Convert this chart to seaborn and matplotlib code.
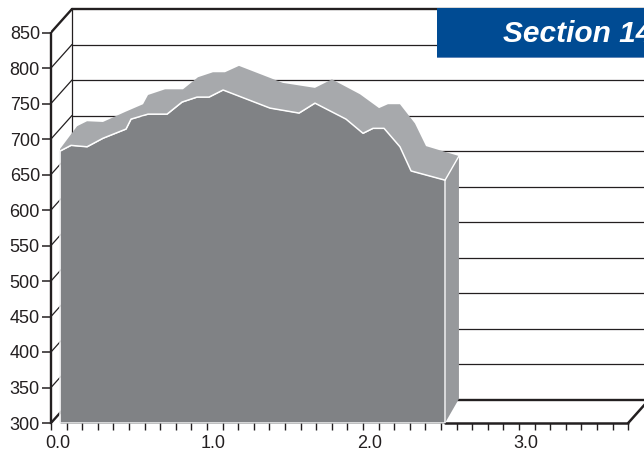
import matplotlib
matplotlib.use("Agg")
import matplotlib.pyplot as plt
from matplotlib.patches import Rectangle
from matplotlib.transforms import ScaledTranslation
import numpy as np
import pandas as pd
import seaborn as sns

# front edge of the ribbon
frontX = [0.058, 0.128, 0.231, 0.333, 0.481, 0.513, 0.622, 0.744, 0.840, 0.936, 1.013, 1.103,
          1.404, 1.590, 1.692, 1.891, 2.000, 2.064, 2.135, 2.237, 2.308, 2.526]
frontY = [683, 691, 689, 701, 714, 728, 735, 735, 752, 759, 759, 769,
          743.5, 736.5, 750.5, 728, 708, 715, 715, 689, 655, 642]
# back edge of the ribbon
backX = [0.058, 0.167, 0.231, 0.333, 0.474, 0.590, 0.622, 0.731, 0.846, 0.942, 1.038, 1.115,
         1.205, 1.487, 1.692, 1.801, 1.981, 2.103, 2.160, 2.237, 2.333, 2.404, 2.615]
backY = [686, 718, 725, 724, 738, 749, 762, 770, 770, 787, 794, 794,
         803, 779, 772, 784, 763, 743.5, 749, 749, 722, 690, 676]

yTicks = list(range(300, 851, 50))
xTickLabels = [0.0, 1.0, 2.0, 3.0]
xMinor = [i / 10 for i in range(38)]
bannerText = "Section 14"

W, H = 644, 451
AXIS_X, FLOOR_Y = 51, 423
PX_PER_X = 156
PX_PER_Y = 35.5 / 50
DEPTH_X = 21 / PX_PER_X
DEPTH_Y = 23.5 / PX_PER_Y
DARK = "#231f20"

sns.set_theme(style="white")
plt.rcParams["font.family"] = ["Liberation Sans", "DejaVu Sans"]

fig = plt.figure(figsize=(W / 100, H / 100), dpi=100)
ax = fig.add_axes([AXIS_X / W, (H - FLOOR_Y) / H, (W - AXIS_X) / W, FLOOR_Y / H])
ax.set_xlim(0, (W - AXIS_X) / PX_PER_X)
ax.set_ylim(300, 300 + FLOOR_Y / PX_PER_Y)
for side in ["top", "right", "bottom"]:
    ax.spines[side].set_visible(False)
ax.spines["left"].set_bounds(300, 850)
ax.spines["left"].set_linewidth(1.7)
ax.spines["left"].set_color(DARK)

# wall grid and the diagonals running back from the front axis
xRight = ax.get_xlim()[1]
for v in yTicks:
    thick = v in (300, 850)
    lw = 1.7 if thick else 0.9
    ax.plot([DEPTH_X, xRight], [v + DEPTH_Y] * 2, color=DARK, lw=lw, zorder=1)
    ax.plot([0, DEPTH_X], [v, v + DEPTH_Y], color=DARK, lw=lw, zorder=1)
ax.plot([DEPTH_X, DEPTH_X], [300 + DEPTH_Y, 850 + DEPTH_Y], color=DARK, lw=0.9, zorder=1)

# floor, only the parts the ribbon does not cover
floorEnd = xMinor[37]
ax.plot([frontX[-1], floorEnd], [300, 300], color=DARK, lw=1.8, zorder=1, clip_on=False)
ax.plot([floorEnd, floorEnd + DEPTH_X], [300, 300 + DEPTH_Y], color=DARK, lw=1.8, zorder=1)

# ribbon faces
ax.fill(frontX + backX[::-1], frontY + backY[::-1], color="#a7a9ac", lw=0, zorder=2)
ax.fill([frontX[-1], backX[-1], backX[-1], frontX[-1]],
        [frontY[-1], backY[-1], 300 + backY[-1] - frontY[-1], 300],
        color="#97999c", lw=0, zorder=2)
ax.fill_between(frontX, 300, frontY, color="#808285", lw=0, zorder=3)

# white edges of the front face
df_front = pd.DataFrame({"x": frontX, "y": frontY})
sns.lineplot(x="x", y="y", data=df_front, ax=ax, color="white", lw=1.1, sort=False, zorder=4)
ax.plot([frontX[0], frontX[0], frontX[-1], frontX[-1]],
        [frontY[0], 300, 300, frontY[-1]], color="#f1f1f2", lw=1.1, zorder=4)
ax.plot([frontX[-1], backX[-1]], [frontY[-1], backY[-1]], color="white", lw=1.0, zorder=4)

ax.set_xlabel("")
ax.set_ylabel("")
ax.set_yticks(yTicks)
ax.set_xticks(xTickLabels)
ax.set_xticklabels([f"{v:.1f}" for v in xTickLabels])
ax.set_xticks([v for v in xMinor if v not in xTickLabels], minor=True)
ax.tick_params(axis="y", left=True, length=6.5, width=1.1, color=DARK, labelsize=13, labelcolor=DARK, pad=1.5)
ax.tick_params(axis="x", which="both", bottom=True, length=5, width=1.0, color=DARK)
ax.tick_params(axis="x", which="major", labelsize=13, labelcolor=DARK, pad=4)

# the x labels sit a little to the right of their ticks
labelShift = ScaledTranslation(6.5 / 100, 0, fig.dpi_scale_trans)
for label in ax.get_xticklabels():
    label.set_transform(label.get_transform() + labelShift)

# section banner cut by the page edge
fig.add_artist(Rectangle((437 / W, 1 - 57.5 / H), (W - 437) / W, 1 / H, color="#5f86b8", lw=0, zorder=5))
fig.add_artist(Rectangle((437 / W, 1 - 57 / H), (W - 437) / W, 49 / H, color="#004b93", lw=0, zorder=5))
fig.text(503 / W, 1 - 42 / H, bannerText, color="white", fontsize=21.5, fontweight="bold", fontstyle="italic",
         ha="left", va="baseline", zorder=6)

fig.savefig("out.png", dpi=100)
